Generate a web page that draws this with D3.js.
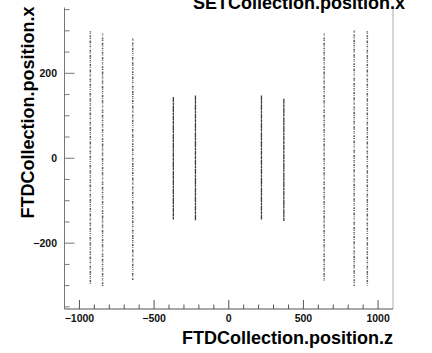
<!DOCTYPE html>
<html>
<head>
<meta charset="utf-8">
<script src="https://cdnjs.cloudflare.com/ajax/libs/d3/7.8.5/d3.min.js"></script>
<style>
  body { margin: 0; background: #fff; }
  svg { display: block; font-family: "Liberation Sans", Arial, sans-serif; }
</style>
</head>
<body>
<svg id="chart" width="432" height="353"></svg>
<script>
// FTD disks: z position of each disk and the x extent of its hits
const diskZ = [-927, -845, -643, -371, -223, 219, 369, 639, 840, 928];
const diskXMin = [-296, -301, -287, -144, -146, -144, -148, -291, -301, -301];
const diskXMax = [299, 294, 282, 144, 148, 148, 140, 294, 301, 299];

const xMajorTicks = [-1000, -500, 0, 500, 1000];
const xMinorTicks = [-900, -800, -700, -600, -400, -300, -200, -100, 100, 200, 300, 400, 600, 700, 800, 900];
const yMajorTicks = [-200, 0, 200];
const yMinorTicks = [-350, -300, -250, -150, -100, -50, 50, 100, 150, 250, 300, 350];

const titleText = 'SETCollection.position.x';
const xTitle = 'FTDCollection.position.z';
const yTitle = 'FTDCollection.position.x';

let frame = { left: 64.5, right: 393, top: 7.5, bottom: 309 };

let svg = d3.select('#chart');

let xScale = d3.scaleLinear()
    .domain([-1100, 1100])
    .range([frame.left, frame.right]);

let yScale = d3.scaleLinear()
    .domain([-355, 355])
    .range([frame.bottom, frame.top]);

let disks = diskZ.map((z, i) => ({ z: z, lo: diskXMin[i], hi: diskXMax[i] }));
let isInner = d => (d.hi - d.lo) < 400;

// streaks of hits, dotted to look like a scatter
svg.append('g')
    .selectAll('line')
    .data(disks)
    .enter()
    .append('line')
    .attr('x1', d => xScale(d.z))
    .attr('x2', d => xScale(d.z))
    .attr('y1', d => yScale(d.hi))
    .attr('y2', d => yScale(d.lo))
    .attr('stroke', '#1a1a1a')
    .attr('stroke-opacity', d => isInner(d) ? 0.85 : 0.7)
    .attr('stroke-width', d => isInner(d) ? 1.3 : 1.5)
    .attr('stroke-dasharray', d => isInner(d)
        ? '5 0.4 3 0.5 6 0.4 2.5 0.6'
        : '1.2 0.8 0.6 1.4 2 0.7 1 1.6 2.5 0.6 0.8 1.2');

// frame: right side only (light), no top line
svg.append('line')
    .attr('x1', frame.right).attr('x2', frame.right)
    .attr('y1', frame.top).attr('y2', frame.bottom)
    .attr('stroke', '#bbb')
    .attr('stroke-width', 1.2);

// y axis
let yAxis = svg.append('g');
yAxis.append('line')
    .attr('x1', frame.left).attr('x2', frame.left)
    .attr('y1', frame.top).attr('y2', frame.bottom)
    .attr('stroke', '#777');
yAxis.selectAll('line.major')
    .data(yMajorTicks)
    .enter()
    .append('line')
    .attr('class', 'major')
    .attr('x1', frame.left).attr('x2', frame.left + 10)
    .attr('y1', d => yScale(d)).attr('y2', d => yScale(d))
    .attr('stroke', '#777');
yAxis.selectAll('line.minor')
    .data(yMinorTicks)
    .enter()
    .append('line')
    .attr('class', 'minor')
    .attr('x1', frame.left).attr('x2', frame.left + 5)
    .attr('y1', d => yScale(d)).attr('y2', d => yScale(d))
    .attr('stroke', '#777');
yAxis.selectAll('text')
    .data(yMajorTicks)
    .enter()
    .append('text')
    .attr('x', 57)
    .attr('y', d => yScale(d) + 4)
    .attr('text-anchor', 'end')
    .attr('font-size', '10.5px')
    .attr('font-weight', 'bold')
    .attr('fill', '#111')
    .text(d => d < 0 ? '\u2212' + Math.abs(d) : d);

// x axis
let xAxis = svg.append('g');
xAxis.append('line')
    .attr('x1', frame.left).attr('x2', frame.right)
    .attr('y1', frame.bottom).attr('y2', frame.bottom)
    .attr('stroke', '#555');
xAxis.selectAll('line.major')
    .data(xMajorTicks)
    .enter()
    .append('line')
    .attr('class', 'major')
    .attr('x1', d => xScale(d)).attr('x2', d => xScale(d))
    .attr('y1', frame.bottom).attr('y2', frame.bottom - 9)
    .attr('stroke', '#555');
xAxis.selectAll('line.minor')
    .data(xMinorTicks)
    .enter()
    .append('line')
    .attr('class', 'minor')
    .attr('x1', d => xScale(d)).attr('x2', d => xScale(d))
    .attr('y1', frame.bottom).attr('y2', frame.bottom - 4.5)
    .attr('stroke', '#555');
xAxis.selectAll('text')
    .data(xMajorTicks)
    .enter()
    .append('text')
    .attr('x', d => xScale(d))
    .attr('y', 322)
    .attr('text-anchor', 'middle')
    .attr('font-size', '10.5px')
    .attr('font-weight', 'bold')
    .attr('fill', '#111')
    .text(d => d < 0 ? '\u2212' + Math.abs(d) : d);

// titles
svg.append('text')
    .attr('x', frame.right)
    .attr('y', 344)
    .attr('text-anchor', 'end')
    .attr('font-size', '18px')
    .attr('font-weight', 'bold')
    .text(xTitle);

svg.append('text')
    .attr('transform', `translate(34, ${frame.top - 1}) rotate(-90)`)
    .attr('text-anchor', 'end')
    .attr('font-size', '18px')
    .attr('font-weight', 'bold')
    .text(yTitle);

svg.append('text')
    .attr('x', 405)
    .attr('y', 9)
    .attr('text-anchor', 'end')
    .attr('font-size', '18px')
    .attr('font-weight', 'bold')
    .text(titleText);
</script>
</body>
</html>
